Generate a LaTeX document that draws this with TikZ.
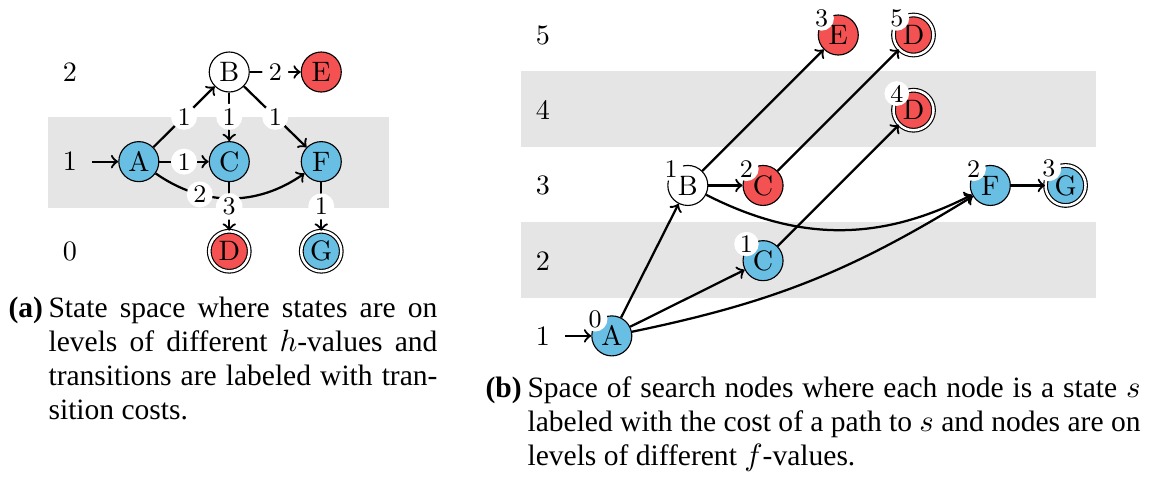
\documentclass[tikz,border=0pt]{standalone}
\usepackage{fontspec}
\newfontfamily\capfont{Liberation Serif}
\usetikzlibrary{positioning, backgrounds, calc}
\definecolor{deadred}{HTML}{F45252}
\definecolor{liveblue}{HTML}{68BEE3}
\tikzset{
    levelgraph/.style={>=to, on grid},
    snode/.style={draw, circle, thin, minimum size=0.5cm, inner sep=0pt},
    whitestate/.style={snode, fill=white},
    redstate/.style={snode, fill=deadred},
    bluestate/.style={snode, fill=liveblue},
    goal/.style={double, double distance=0.9pt},
    hval/.style={inner sep=0pt},
    band/.style={fill=gray!20},
    trans/.style={->, thick},
    wlabel/.style={fill=white, circle, inner sep=0.6pt, font=\small},
    % g-value of a search node, half over its upper left border
    cost/.style={label={[fill=white, circle, inner sep=0.4pt, font=\small, label distance=-3.5pt]135:#1}},
    caplabel/.style={font=\capfont\fontsize{10.5}{12.2}\selectfont, inner sep=0pt, anchor=base west},
    captext/.style={caplabel, align=justify},
}

\begin{document}
\begin{tikzpicture}[levelgraph, x=0.0125cm, y=-0.0125cm]
    \useasboundingbox (0,0) rectangle (1150,479);

    % (a) states on h-levels
    \begin{scope}[node distance=1.12cm]
    \node[hval]                          (ha2) at (70,72) {2};
    \node[hval, below=of ha2]            (ha1) {1};
    \node[hval, below=of ha1]            (ha0) {0};
    \coordinate[right=0.28cm of ha1]     (ina);
    \node[bluestate, right=0.86cm of ha1] (A) {A};
    \node[bluestate, right=1.13cm of A]  (C) {C};
    \node[bluestate, right=1.15cm of C]  (F) {F};
    \node[whitestate, above=of C]        (B) {B};
    \node[redstate, above=of F]          (E) {E};
    \node[redstate, goal, below=of C]    (D) {D};
    \node[bluestate, goal, below=of F]   (G) {G};
    \end{scope}

    \draw[trans] (ina) -- (A);
    \draw[trans] (A) -- node[wlabel] {1} (B);
    \draw[trans] (A) -- node[wlabel] {1} (C);
    \draw[trans] (A) to[bend right=35] node[wlabel, pos=0.3] {2} (F);
    \draw[trans] (B) -- node[wlabel] {2} (E);
    \draw[trans] (B) -- node[wlabel] {1} (C);
    \draw[trans] (B) -- node[wlabel] {1} (F);
    \draw[trans] (C) -- node[wlabel] {3} (D);
    \draw[trans] (F) -- node[wlabel] {1} (G);

    % (b) search nodes on f-levels
    \begin{scope}[node distance=0.94cm]
    \node[hval]                          (hb5) at (543,35) {5};
    \node[hval, below=of hb5]            (hb4) {4};
    \node[hval, below=of hb4]            (hb3) {3};
    \node[hval, below=of hb3]            (hb2) {2};
    \node[hval, below=of hb2]            (hb1) {1};
    \coordinate[right=0.28cm of hb1]     (inb);
    \node[bluestate, cost=0, right=0.86cm of hb1] (A0) {A};
    \node[whitestate, cost=1, above right=1.88cm and 0.95cm of A0] (B1) {B};
    \node[redstate, cost=2, right=of B1] (C2) {C};
    \node[bluestate, cost=1, below=of C2] (C1) {C};
    \node[redstate, cost=3, above right=1.88cm and 0.94cm of C2] (E3) {E};
    \node[redstate, goal, cost=5, right=of E3] (D5) {D};
    \node[redstate, goal, cost=4, below=of D5] (D4) {D};
    \node[bluestate, cost=2, right=2.84cm of C2] (F2) {F};
    \node[bluestate, goal, cost=3, right=of F2] (G3) {G};
    \end{scope}

    \draw[trans] (inb) -- (A0);
    \draw[trans] (A0) -- (B1);
    \draw[trans] (A0) -- (C1);
    \draw[trans] (A0) to[bend right=10] (F2);
    \draw[trans] (B1) -- (C2);
    \draw[trans] (B1) -- (E3);
    \draw[trans] (B1) to[bend right=27] (F2);
    \draw[trans] (C2) -- (D5);
    \draw[trans] (C1) -- (D4);
    \draw[trans] (F2) -- (G3);

    \begin{scope}[on background layer]
    \fill[band] ($(ha1)+(-22,-45)$) rectangle ($(ha1)+(319,46)$);
    \fill[band] ($(hb4)+(-22,-39)$) rectangle ($(hb4)+(553,37)$);
    \fill[band] ($(hb2)+(-22,-39)$) rectangle ($(hb2)+(553,37)$);
    \end{scope}

    % captions
    \node[caplabel] (capa) at (8,317) {\textbf{(a)}};
    \node[captext, text width=4.86cm] (capatext) at (48,317)
        {State space where states are on\linebreak levels of different $h$-values and\linebreak transitions are labeled with tran-\linebreak sition costs.};
    \node[caplabel] (capb) at (485,397) {\textbf{(b)}};
    \node[captext, text width=7.66cm] (capbtext) at (527,397)
        {Space of search nodes where each node is a state $s$\linebreak labeled with the cost of a path to $s$ and nodes are on\linebreak levels of different $f$-values.};
\end{tikzpicture}
\end{document}
